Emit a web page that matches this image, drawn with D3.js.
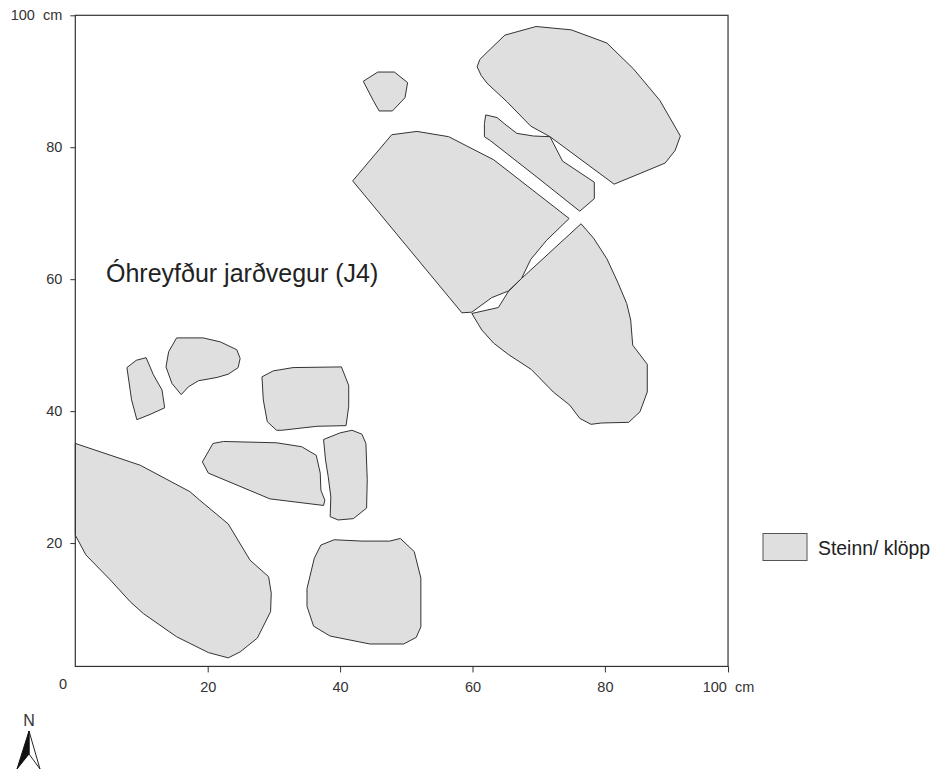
<!DOCTYPE html>
<html>
<head>
<meta charset="utf-8">
<script src="https://d3js.org/d3.v7.min.js"></script>
<style>
  body { margin: 0; background: #fff; }
  svg { display: block; }
  text { font-family: "Liberation Sans", Arial, sans-serif; white-space: pre; }
</style>
</head>
<body>
<script>
// stone outlines in cm as [x, y]
var rockTopRight = [[60.7,92.2],[61.1,93.3],[62.2,94.4],[64.9,97.0],[69.6,98.3],[74.9,97.8],[80.3,95.8],[84.3,91.9],[88.3,87.1],[91.4,81.7],[90.6,79.5],[89.1,77.6],[81.4,74.4],[71.7,81.6],[68.8,83.2],[65.2,86.9],[62.2,89.7],[61.3,90.9]];
var rockSmallTop = [[43.5,90.0],[45.7,91.4],[48.2,91.4],[50.2,89.8],[49.8,87.5],[47.9,85.5],[45.9,85.5],[45.0,87.1]];
var rockSliver = [[62.0,84.9],[63.7,84.5],[64.9,83.5],[66.7,82.1],[69.2,81.7],[71.7,81.6],[73.6,77.9],[78.4,74.7],[78.4,72.2],[76.2,70.3],[70.2,75.1],[62.7,81.0],[61.8,81.6],[61.8,83.6]];
var rockMiddle = [[41.9,74.9],[47.8,81.9],[51.6,82.4],[56.4,81.6],[63.2,78.1],[74.6,69.2],[71.2,65.9],[68.8,63.0],[67.4,60.1],[65.4,58.2],[62.9,57.2],[59.9,55.0],[58.4,54.9]];
var rockLowerRight = [[76.4,68.4],[78.3,66.2],[80.3,63.1],[82.0,59.4],[83.3,56.3],[83.9,53.8],[84.2,50.0],[86.4,47.1],[86.4,42.9],[85.3,39.9],[83.6,38.3],[79.5,38.2],[77.9,38.0],[76.2,38.9],[74.7,40.9],[72.2,42.9],[68.9,46.3],[65.4,48.6],[63.2,50.3],[61.4,52.3],[59.9,54.8],[63.9,55.7],[65.4,58.1],[67.4,60.1]];
var rockLeftSmall = [[7.8,46.6],[9.2,47.7],[10.7,48.1],[11.8,45.5],[13.1,43.2],[13.5,40.5],[11.3,39.5],[9.3,38.7],[8.5,41.7]];
var rockLeftRound = [[15.3,51.1],[19.3,51.1],[21.9,50.5],[24.4,49.3],[24.9,48.0],[24.6,46.6],[23.1,45.6],[21.4,45.1],[18.6,44.6],[17.1,43.7],[16.0,42.5],[14.6,44.2],[13.7,46.7],[14.1,49.0]];
var rockSquare = [[28.2,45.2],[29.9,46.1],[32.9,46.6],[40.2,46.7],[41.3,43.9],[41.3,40.7],[40.9,37.8],[36.5,37.7],[31.2,37.1],[30.4,37.1],[29.0,38.4],[28.4,41.7]];
var rockLong = [[20.8,35.1],[22.4,35.4],[30.4,35.2],[34.2,34.6],[36.4,33.3],[37.0,30.6],[37.1,28.0],[37.7,26.5],[37.5,25.7],[29.4,26.7],[20.1,30.6],[19.2,32.3]];
var rockUpright = [[37.5,35.7],[40.0,36.7],[41.8,37.1],[43.3,36.5],[43.9,35.1],[44.1,29.6],[44.0,25.3],[42.0,23.7],[39.7,23.5],[38.5,24.0],[38.6,27.0],[38.2,30.1],[37.8,32.6]];
var rockBigLeft = [[0.0,35.1],[9.8,31.8],[17.3,27.8],[18.8,26.5],[23.1,22.9],[26.4,17.4],[29.2,14.9],[29.6,12.4],[29.5,9.6],[27.5,5.6],[24.9,3.5],[23.1,2.6],[20.1,3.4],[15.3,5.8],[10.3,9.3],[8.3,11.1],[5.3,14.4],[1.6,18.2],[0.0,21.2]];
var rockBottom = [[37.1,19.7],[39.1,20.5],[43.3,20.3],[47.5,20.3],[49.1,20.7],[51.2,18.7],[52.2,14.7],[52.2,7.3],[51.5,5.7],[49.6,4.7],[44.5,4.7],[38.5,5.9],[36.0,7.4],[35.0,10.4],[35.0,13.1],[36.1,17.7]];

var rocks = [rockTopRight, rockSmallTop, rockSliver, rockMiddle, rockLowerRight, rockLeftSmall, rockLeftRound, rockSquare, rockLong, rockUpright, rockBigLeft, rockBottom];

var xTicks = [20, 40, 60, 80, 98.6];
var yTicks = [20, 40, 60, 80, 100];
var xEnd = 98.6;   // the frame stops short of 100 on the x side
var yStart = 1.3;  // and does not quite reach 0 on the y side
var mapLabel = "Óhreyfður jarðvegur (J4)";
var legendLabel = "Steinn/ klöpp";

var width = 936, height = 773;
var lineColor = "#333", fillColor = "#dfdfdf", textColor = "#333";

var svg = d3.select("body").append("svg")
    .attr("width", width)
    .attr("height", height);

var x = d3.scaleLinear().domain([0, 100]).range([75.3, 737.3]);
var y = d3.scaleLinear().domain([0, 100]).range([675, 15.3]);

// rocks
var line = d3.line()
    .x(function(d) { return x(d[0]); })
    .y(function(d) { return y(d[1]); })
    .curve(d3.curveLinearClosed);

svg.selectAll("path.rock")
    .data(rocks)
  .enter().append("path")
    .attr("class", "rock")
    .attr("d", line)
    .attr("fill", fillColor)
    .attr("stroke", lineColor)
    .attr("stroke-width", 1);

// frame
svg.append("rect")
    .attr("x", x(0))
    .attr("y", y(100))
    .attr("width", x(xEnd) - x(0))
    .attr("height", y(yStart) - y(100))
    .attr("fill", "none")
    .attr("stroke", lineColor)
    .attr("stroke-width", 1.2);

// axes
var xAxis = d3.axisBottom(x)
    .tickValues(xTicks)
    .tickSize(6)
    .tickPadding(9)
    .tickFormat(function(d) { return d === xEnd ? "100  cm" : d; });

var yAxis = d3.axisLeft(y)
    .tickValues(yTicks)
    .tickSize(5)
    .tickPadding(8)
    .tickFormat(function(d) { return d === 100 ? "100  cm" : d; });

var gx = svg.append("g")
    .attr("transform", "translate(0," + y(yStart) + ")")
    .call(xAxis);

var gy = svg.append("g")
    .attr("transform", "translate(" + x(0) + ",0)")
    .call(yAxis);

[gx, gy].forEach(function(g) {
  g.select(".domain").remove();
  g.selectAll("line").attr("stroke", lineColor);
  g.selectAll("text")
      .attr("fill", textColor)
      .style("font-family", '"Liberation Sans", Arial, sans-serif')
      .style("font-size", "14.5px");
});

svg.append("text")
    .attr("x", 63)
    .attr("y", 688.5)
    .attr("text-anchor", "middle")
    .attr("fill", textColor)
    .style("font-size", "14.5px")
    .text("0");

// label on the map
svg.append("text")
    .attr("x", 106)
    .attr("y", 282)
    .attr("fill", "#222")
    .style("font-size", "25px")
    .text(mapLabel);

// legend
svg.append("rect")
    .attr("x", 763)
    .attr("y", 533.5)
    .attr("width", 44)
    .attr("height", 27)
    .attr("fill", fillColor)
    .attr("stroke", "#555")
    .attr("stroke-width", 1);

svg.append("text")
    .attr("x", 818)
    .attr("y", 555)
    .attr("fill", "#222")
    .style("font-size", "19.4px")
    .text(legendLabel);

// north arrow
svg.append("text")
    .attr("x", 29)
    .attr("y", 725.5)
    .attr("text-anchor", "middle")
    .attr("fill", textColor)
    .style("font-size", "16px")
    .text("N");

var arrow = svg.append("g").attr("transform", "translate(29,731)");
arrow.append("path")
    .attr("d", "M0,0L11,38L0,23Z")
    .attr("fill", "#fff")
    .attr("stroke", "#222");
arrow.append("path")
    .attr("d", "M0,0L-12,38L0,23Z")
    .attr("fill", "#111")
    .attr("stroke", "#111");
</script>
</body>
</html>
